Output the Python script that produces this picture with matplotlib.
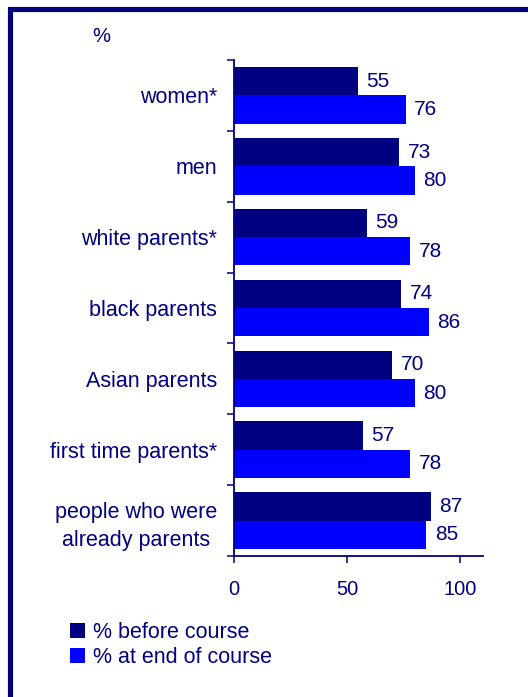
import matplotlib
matplotlib.use('Agg')
import matplotlib.pyplot as plt
import numpy as np
from matplotlib.patches import Rectangle

categories = ['women*', 'men', 'white parents*', 'black parents',
              'Asian parents', 'first time parents*',
              'people who were\nalready parents']
before_course = [55, 73, 59, 74, 70, 57, 87]
end_of_course = [76, 80, 78, 86, 80, 78, 85]
series_labels = ['% before course', '% at end of course']
x_ticks = [0, 50, 100]

navy = '#000080'
blue = '#0000FF'

plt.rcParams['font.family'] = ['Liberation Sans', 'DejaVu Sans']
plt.rcParams['font.size'] = 14.5
plt.rcParams['text.color'] = navy

W, H = 528, 697
fig = plt.figure(figsize=(W / 100, H / 100), dpi=100)
fig.patch.set_facecolor('white')

# frame round the whole chart, running off the right and bottom edges
fig.patches.append(Rectangle((9.5 / W, -0.05), 1.2, 1 - 8.5 / H + 0.05,
                             transform=fig.transFigure, fill=False,
                             edgecolor=navy, linewidth=3.7))

ax = fig.add_axes([233.5 / W, 1 - 556 / H, (483 - 233.5) / W, (556 - 60) / H])

n = len(categories)
y = np.arange(n)
h = 0.4
b1 = ax.barh(y - h / 2, before_course, height=h, color=navy, label=series_labels[0])
b2 = ax.barh(y + h / 2, end_of_course, height=h, color=blue, label=series_labels[1])

for bars, vals in ((b1, before_course), (b2, end_of_course)):
    for bar, v in zip(bars, vals):
        ax.annotate(str(v), (v, bar.get_y() + bar.get_height() / 2),
                    xytext=(6, 0), textcoords='offset points',
                    va='center', ha='left', color=navy, fontsize=15)

ax.set_ylim(n - 0.5, -0.5)
ax.set_xlim(0, 110)

ax.set_yticks(y)
ax.set_yticklabels(categories, fontsize=15.5)
for lab in ax.get_yticklabels():
    lab.set_multialignment('center')
    lab.set_linespacing(1.45)
ax.set_yticks(np.arange(n + 1) - 0.5, minor=True)
ax.tick_params(axis='y', which='major', length=0, pad=12, colors=navy)
ax.tick_params(axis='y', which='minor', length=5, width=1.1, color=navy,
               direction='out')

ax.set_xticks(x_ticks)
ax.tick_params(axis='x', length=5, width=1.1, color=navy, labelcolor=navy,
               pad=12, direction='out')

for side in ('top', 'right'):
    ax.spines[side].set_visible(False)
for side in ('left', 'bottom'):
    ax.spines[side].set_color(navy)
    ax.spines[side].set_linewidth(1.3)

fig.text(92 / W, 1 - 36 / H, '%', ha='left', va='center', color=navy,
         fontsize=14.5)

fig.legend(handles=[b1, b2], loc='upper left',
           bbox_to_anchor=(61 / W, 1 - 613 / H), frameon=False,
           handlelength=0.7, handleheight=0.7, handletextpad=0.4,
           labelspacing=0.2, fontsize=15.5, labelcolor=navy,
           borderaxespad=0)

fig.savefig('out.png', dpi=100, facecolor='white')
